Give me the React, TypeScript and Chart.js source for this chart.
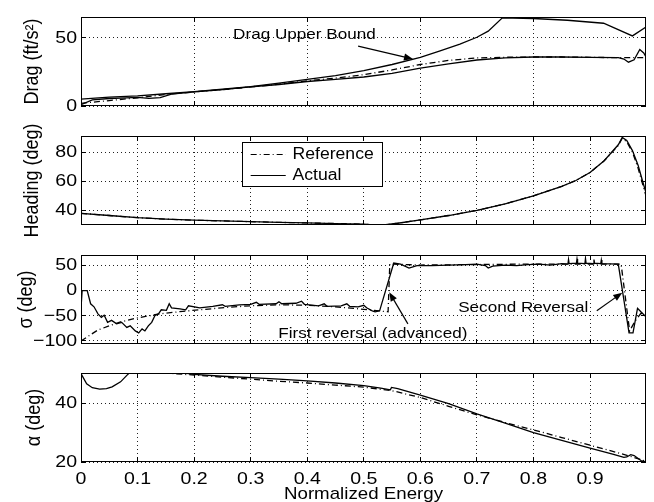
import React, { useEffect, useRef } from "react";
import { Chart, registerables } from "chart.js";

Chart.register(...registerables);

// ---------------- data ----------------
const X_MAX = 0.999;
const xTicksCoarse = [0, 0.2, 0.4, 0.6, 0.8];
const xTicksFine = [0, 0.1, 0.2, 0.3, 0.4, 0.5, 0.6, 0.7, 0.8, 0.9];
const xTickLabels = ["0", "0.1", "0.2", "0.3", "0.4", "0.5", "0.6", "0.7", "0.8", "0.9"];

const dragTicks = [0, 50];
const dragTickLabels = ["0", "50"];
const headingTicks = [40, 60, 80];
const headingTickLabels = ["40", "60", "80"];
const sigmaTicks = [-100, -50, 0, 50];
const sigmaTickLabels = ["\u2212100", "\u221250", "0", "50"];
const alphaTicks = [20, 40];
const alphaTickLabels = ["20", "40"];

// Drag (ft/s^2)
const dragRefX = [0, 0.05, 0.1, 0.15, 0.2, 0.25, 0.3, 0.35, 0.4, 0.45, 0.5, 0.55, 0.6, 0.65, 0.7, 0.75, 0.8, 0.85, 0.9, 0.95, 0.999];
const dragRefY = [2, 4, 6, 8.5, 10.3, 12, 14, 16, 18.5, 20.5, 23, 26.5, 30.5, 33.5, 35.3, 35.8, 36, 36, 35.8, 35.5, 35.5];
const dragActX = [0, 0.02, 0.05, 0.08, 0.1, 0.12, 0.14, 0.16, 0.2, 0.25, 0.3, 0.35, 0.4, 0.45, 0.5, 0.55, 0.6, 0.65, 0.7, 0.75, 0.8, 0.85, 0.9, 0.95, 0.96, 0.968, 0.978, 0.988, 0.995, 0.999];
const dragActY = [1, 4.5, 5.5, 6, 6.3, 5.6, 6.2, 8.8, 10.4, 12, 14, 15.8, 18, 19.5, 21.3, 24, 27.8, 31, 33.8, 35.3, 36, 36, 35.8, 35.5, 34.5, 32.2, 34, 41.5, 39, 36];
const dragUbX = [0, 0.05, 0.1, 0.15, 0.2, 0.25, 0.3, 0.35, 0.4, 0.45, 0.5, 0.55, 0.6, 0.635, 0.67, 0.7, 0.72, 0.745, 0.8, 0.86, 0.924, 0.975, 0.999];
const dragUbY = [5, 6.5, 7.5, 9, 10.5, 12.3, 14.3, 16.8, 19.5, 22.3, 26, 30.5, 35.7, 40.5, 45.5, 50.5, 55, 64.8, 64.3, 63, 60.8, 51.5, 58];

// Heading (deg)
const headX = [0, 0.05, 0.1, 0.15, 0.2, 0.25, 0.3, 0.35, 0.4, 0.45, 0.5, 0.528, 0.56, 0.6, 0.65, 0.7, 0.75, 0.8, 0.85, 0.875, 0.9, 0.925, 0.95, 0.957, 0.965, 0.975, 0.985, 0.993, 0.999];
const headActY = [38, 36.5, 35, 34, 33.3, 32.8, 32.3, 31.8, 31.4, 31, 30.6, 29.8, 31.2, 33.5, 36.5, 40, 44.5, 50, 56.5, 60.5, 66, 74, 85, 90, 88, 81, 71, 60, 52];
const headRefY = [38, 36.5, 35, 34, 33.3, 32.8, 32.3, 31.8, 31.4, 31, 30.6, 29.8, 31.2, 33.5, 36.5, 40, 44.5, 50, 56.5, 60.5, 66, 74, 84.5, 89.5, 87, 80, 69, 58, 50];

// Bank angle sigma (deg)
const sigActX = [0, 0.002, 0.011, 0.017, 0.023, 0.03, 0.036, 0.041, 0.047, 0.054, 0.063, 0.072, 0.081, 0.087, 0.096, 0.102, 0.108, 0.113, 0.119, 0.125, 0.131, 0.137, 0.142, 0.151, 0.156, 0.16, 0.175, 0.185, 0.19, 0.21, 0.233, 0.25, 0.255, 0.28, 0.3, 0.31, 0.315, 0.345, 0.35, 0.355, 0.38, 0.39, 0.395, 0.42, 0.43, 0.435, 0.46, 0.47, 0.475, 0.49, 0.5, 0.505, 0.515, 0.52, 0.528, 0.553, 0.565, 0.58, 0.594, 0.62, 0.65, 0.68, 0.7, 0.715, 0.72, 0.728, 0.75, 0.77, 0.79, 0.81, 0.83, 0.85, 0.861, 0.862, 0.863, 0.876, 0.877, 0.878, 0.891, 0.892, 0.893, 0.906, 0.907, 0.908, 0.919, 0.92, 0.921, 0.95, 0.969, 0.976, 0.984, 0.99, 0.999];
const sigActY = [-35, 0, 0, -26, -32, -46, -53, -49, -63, -59, -66, -63, -73, -70, -80, -84, -76, -80, -70, -63, -49, -46, -38, -39, -26, -34, -36, -38, -30, -34, -31, -28, -31, -28, -27, -23, -27, -26, -22, -26, -25, -21, -27, -30, -26, -31, -30, -26, -31, -32, -29, -34, -40, -42, -40, 55, 53, 45, 50, 50, 51, 52, 53, 50, 45, 49, 51, 50, 52, 53, 51, 54, 53, 62, 54, 55, 63, 55, 54, 64, 55, 54, 62, 55, 54, 61, 54, 53, -84, -84, -35, -42, -52];
const sigRefX = [0, 0.03, 0.07, 0.1, 0.14, 0.18, 0.22, 0.26, 0.3, 0.35, 0.4, 0.45, 0.5, 0.543, 0.546, 0.6, 0.7, 0.8, 0.9, 0.955, 0.97, 0.98, 0.99, 0.999];
const sigRefY = [-100, -78, -62, -54, -46, -41, -37, -33, -30, -28, -29, -32, -37, -42, 53, 51, 52, 53, 53, 53, -80, -60, -45, -48];

// Angle of attack alpha (deg)
const alpActX = [0, 0.01, 0.02, 0.033, 0.045, 0.055, 0.07, 0.081, 0.09, 0.1, 0.13, 0.16, 0.2, 0.25, 0.3, 0.35, 0.4, 0.45, 0.5, 0.53, 0.547, 0.549, 0.56, 0.6, 0.65, 0.7, 0.75, 0.8, 0.85, 0.9, 0.94, 0.96, 0.965, 0.972, 0.978, 0.99, 0.999];
const alpActY = [50, 46.5, 45.2, 44.7, 44.9, 45.5, 47.2, 49.4, 51, 52, 52, 50.8, 49.7, 49.1, 48.6, 48.1, 47.5, 46.8, 45.9, 45.1, 44.5, 45.3, 44.9, 42.7, 39.8, 36.3, 33.2, 30, 27.3, 24.7, 22.7, 21.6, 21.7, 22.5, 22.2, 20.5, 20];
const alpRefX = [0.1, 0.15, 0.2, 0.25, 0.3, 0.35, 0.4, 0.45, 0.5, 0.55, 0.6, 0.65, 0.7, 0.75, 0.8, 0.85, 0.9, 0.95, 0.97, 0.99, 0.999];
const alpRefY = [51.5, 50.2, 49.5, 48.8, 48.1, 47.4, 46.8, 46.1, 45.4, 44.2, 41.9, 38.9, 36, 33.4, 30.9, 28.3, 25.7, 23.1, 22, 20.8, 20.3];

// ---------------- styling ----------------
const FONT = '"Liberation Sans", Arial, Helvetica, sans-serif';
const DASHDOT = [6, 3, 1, 3];
const SOLID: number[] = [];
const TICK_SIZE = 17;
const TICK_SX = 1.15;
const TITLE_SIZE = 18;
const NOTE_SIZE = 15;
const NOTE_SX = 1.14;

type Series = { xs: number[]; ys: number[]; dash: number[] };
type Note = { text: string; x: number; y: number; arrow?: [number, number, number, number] };
type LegendCfg = { x0: number; x1: number; yTop: number; yBottom: number; textX: number; lineX0: number; lineX1: number; entries: { label: string; y: number; dash: number[] }[] };
type PanelCfg = {
  yMin: number; yMax: number;
  yTicks: number[]; yLabels: string[];
  xTicks: number[]; xLabels?: string[]; xTitle?: string;
  yTitle: string; yTitleX: number;
  series: Series[];
  notes: Note[];
  legend?: LegendCfg;
};

function stretchText(ctx: CanvasRenderingContext2D, text: string, x: number, y: number, align: CanvasTextAlign, size: number, sx: number) {
  ctx.save();
  ctx.font = `${size}px ${FONT}`;
  ctx.fillStyle = "#000";
  ctx.textBaseline = "middle";
  ctx.textAlign = align;
  ctx.translate(x, y);
  ctx.scale(sx, 1);
  ctx.fillText(text, 0, 0);
  ctx.restore();
}

function arrow(ctx: CanvasRenderingContext2D, x0: number, y0: number, x1: number, y1: number) {
  const ang = Math.atan2(y1 - y0, x1 - x0);
  const L = 9, W = 3.5;
  ctx.save();
  ctx.strokeStyle = "#000";
  ctx.fillStyle = "#000";
  ctx.lineWidth = 1.2;
  ctx.setLineDash([]);
  ctx.beginPath();
  ctx.moveTo(x0, y0);
  ctx.lineTo(x1 - Math.cos(ang) * L * 0.8, y1 - Math.sin(ang) * L * 0.8);
  ctx.stroke();
  ctx.beginPath();
  ctx.moveTo(x1, y1);
  ctx.lineTo(x1 - Math.cos(ang) * L - Math.sin(ang) * W, y1 - Math.sin(ang) * L + Math.cos(ang) * W);
  ctx.lineTo(x1 - Math.cos(ang) * L + Math.sin(ang) * W, y1 - Math.sin(ang) * L - Math.cos(ang) * W);
  ctx.closePath();
  ctx.fill();
  ctx.restore();
}

const al = (p: number) => Math.round(p - 0.5) + 0.5;

function decor(cfg: PanelCfg) {
  return {
    id: "matlabDecor",
    afterDraw(chart: any) {
      const ctx: CanvasRenderingContext2D = chart.ctx;
      const { left, right, top, bottom } = chart.chartArea;
      const xs = chart.scales.x;
      const ys = chart.scales.y;
      ctx.save();
      ctx.strokeStyle = "#000";
      ctx.lineWidth = 1;
      ctx.setLineDash([]);
      // inward tick marks
      ctx.beginPath();
      cfg.xTicks.forEach((v) => {
        const x = al(xs.getPixelForValue(v));
        ctx.moveTo(x, bottom); ctx.lineTo(x, bottom - 5);
        ctx.moveTo(x, top); ctx.lineTo(x, top + 5);
      });
      cfg.yTicks.forEach((v) => {
        const y = al(ys.getPixelForValue(v));
        ctx.moveTo(left, y); ctx.lineTo(left + 5, y);
        ctx.moveTo(right, y); ctx.lineTo(right - 5, y);
      });
      ctx.stroke();
      // frame
      ctx.strokeRect(left + 0.5, top + 0.5, right - left - 1, bottom - top - 1);
      ctx.restore();

      // y tick labels
      cfg.yTicks.forEach((v, i) => {
        stretchText(ctx, cfg.yLabels[i], left - 4, ys.getPixelForValue(v), "right", TICK_SIZE, TICK_SX);
      });
      // x tick labels
      if (cfg.xLabels) {
        cfg.xTicks.forEach((v, i) => {
          stretchText(ctx, cfg.xLabels![i], xs.getPixelForValue(v), bottom + 17, "center", TICK_SIZE, TICK_SX);
        });
      }
      if (cfg.xTitle) {
        stretchText(ctx, cfg.xTitle, (left + right) / 2, bottom + 32, "center", TICK_SIZE, 1.1);
      }
      // y title (rotated)
      ctx.save();
      ctx.font = `${TITLE_SIZE}px ${FONT}`;
      ctx.fillStyle = "#000";
      ctx.textAlign = "center";
      ctx.textBaseline = "middle";
      ctx.translate(cfg.yTitleX, (top + bottom) / 2);
      ctx.rotate(-Math.PI / 2);
      ctx.scale(1, 1.1);
      ctx.fillText(cfg.yTitle, 0, 0);
      ctx.restore();

      // annotations
      cfg.notes.forEach((n) => {
        stretchText(ctx, n.text, xs.getPixelForValue(n.x), ys.getPixelForValue(n.y), "center", NOTE_SIZE, NOTE_SX);
        if (n.arrow) {
          const [ax0, ay0, ax1, ay1] = n.arrow;
          arrow(ctx, xs.getPixelForValue(ax0), ys.getPixelForValue(ay0), xs.getPixelForValue(ax1), ys.getPixelForValue(ay1));
        }
      });

      // legend
      if (cfg.legend) {
        const L = cfg.legend;
        const bx0 = al(xs.getPixelForValue(L.x0));
        const bx1 = al(xs.getPixelForValue(L.x1));
        const by0 = al(ys.getPixelForValue(L.yTop));
        const by1 = al(ys.getPixelForValue(L.yBottom));
        ctx.save();
        ctx.fillStyle = "#fff";
        ctx.fillRect(bx0, by0, bx1 - bx0, by1 - by0);
        ctx.strokeStyle = "#000";
        ctx.lineWidth = 1;
        ctx.setLineDash([]);
        ctx.strokeRect(bx0, by0, bx1 - bx0, by1 - by0);
        L.entries.forEach((e) => {
          const y = al(ys.getPixelForValue(e.y));
          ctx.beginPath();
          ctx.lineWidth = 1.2;
          ctx.setLineDash(e.dash);
          ctx.moveTo(xs.getPixelForValue(L.lineX0), y);
          ctx.lineTo(xs.getPixelForValue(L.lineX1), y);
          ctx.stroke();
          stretchText(ctx, e.label, xs.getPixelForValue(L.textX), y, "left", NOTE_SIZE + 1, 1.1);
        });
        ctx.restore();
      }
    },
  };
}

const panels: { cfg: PanelCfg; top: number; height: number; padBottom: number }[] = [
  {
    top: 0, height: 119, padBottom: 13,
    cfg: {
      yMin: 0, yMax: 65.4, yTicks: dragTicks, yLabels: dragTickLabels, xTicks: xTicksCoarse,
      yTitle: "Drag (ft/s\u00B2)", yTitleX: 33,
      series: [
        { xs: dragRefX, ys: dragRefY, dash: DASHDOT },
        { xs: dragActX, ys: dragActY, dash: SOLID },
        { xs: dragUbX, ys: dragUbY, dash: SOLID },
      ],
      notes: [{ text: "Drag Upper Bound", x: 0.395, y: 52.5, arrow: [0.49, 44, 0.587, 34.5] }],
    },
  },
  {
    top: 119, height: 119, padBottom: 13,
    cfg: {
      yMin: 30, yMax: 91, yTicks: headingTicks, yLabels: headingTickLabels, xTicks: xTicksFine,
      yTitle: "Heading (deg)", yTitleX: 33,
      series: [
        { xs: headX, ys: headRefY, dash: DASHDOT },
        { xs: headX, ys: headActY, dash: SOLID },
      ],
      notes: [],
      legend: {
        x0: 0.285, x1: 0.533, yTop: 86.4, yBottom: 56.7, lineX0: 0.3, lineX1: 0.362, textX: 0.374,
        entries: [
          { label: "Reference", y: 78.5, dash: DASHDOT },
          { label: "Actual", y: 64.1, dash: SOLID },
        ],
      },
    },
  },
  {
    top: 238, height: 119, padBottom: 13,
    cfg: {
      yMin: -106, yMax: 71, yTicks: sigmaTicks, yLabels: sigmaTickLabels, xTicks: xTicksFine,
      yTitle: "\u03C3 (deg)", yTitleX: 27,
      series: [
        { xs: sigRefX, ys: sigRefY, dash: DASHDOT },
        { xs: sigActX, ys: sigActY, dash: SOLID },
      ],
      notes: [
        { text: "First reversal (advanced)", x: 0.516, y: -85, arrow: [0.578, -66, 0.545, -3] },
        { text: "Second Reversal", x: 0.782, y: -34, arrow: [0.912, -40, 0.957, -4] },
      ],
    },
  },
  {
    top: 356, height: 146, padBottom: 40,
    cfg: {
      yMin: 20, yMax: 50.2, yTicks: alphaTicks, yLabels: alphaTickLabels, xTicks: xTicksFine,
      xLabels: xTickLabels, xTitle: "Normalized Energy",
      yTitle: "\u03B1 (deg)", yTitleX: 35,
      series: [
        { xs: alpRefX, ys: alpRefY, dash: DASHDOT },
        { xs: alpActX, ys: alpActY, dash: SOLID },
      ],
      notes: [],
    },
  },
];

function Panel({ cfg, top, height, padBottom }: { cfg: PanelCfg; top: number; height: number; padBottom: number }) {
  const ref = useRef<HTMLCanvasElement>(null);
  useEffect(() => {
    if (!ref.current) return;
    const datasets = cfg.series.map((s) => ({
      data: s.xs.map((x, i) => ({ x, y: s.ys[i] })),
      borderColor: "#000",
      borderWidth: 1.3,
      borderDash: s.dash,
      pointRadius: 0,
      tension: 0,
      fill: false,
      clip: 0,
    }));
    const gridOpts = { color: "#222", lineWidth: 1, drawTicks: false };
    const chart = new Chart(ref.current, {
      type: "line",
      data: { datasets: datasets as any },
      options: {
        animation: false,
        responsive: false,
        devicePixelRatio: 1,
        events: [],
        layout: { padding: { left: 81, right: 8, top: 17, bottom: padBottom } },
        plugins: { legend: { display: false }, tooltip: { enabled: false } },
        scales: {
          x: {
            type: "linear", min: 0, max: X_MAX,
            afterBuildTicks: (s: any) => { s.ticks = cfg.xTicks.map((v) => ({ value: v })); },
            afterFit: (s: any) => { s.height = 0; },
            ticks: { display: false },
            grid: gridOpts,
            border: { display: false, dash: [1, 3] },
          },
          y: {
            type: "linear", min: cfg.yMin, max: cfg.yMax,
            afterBuildTicks: (s: any) => { s.ticks = cfg.yTicks.map((v) => ({ value: v })); },
            afterFit: (s: any) => { s.width = 0; },
            ticks: { display: false },
            grid: gridOpts,
            border: { display: false, dash: [1, 3] },
          },
        },
      } as any,
      plugins: [decor(cfg)],
    });
    return () => chart.destroy();
  }, []);
  return (
    <canvas
      ref={ref}
      width={654}
      height={height}
      style={{ position: "absolute", left: 0, top, width: 654, height, display: "block" }}
    />
  );
}

export default function App() {
  return (
    <div style={{ position: "absolute", left: 0, top: 0, width: 654, height: 502, background: "#fff", overflow: "hidden" }}>
      {panels.map((p, i) => (
        <Panel key={i} cfg={p.cfg} top={p.top} height={p.height} padBottom={p.padBottom} />
      ))}
    </div>
  );
}
